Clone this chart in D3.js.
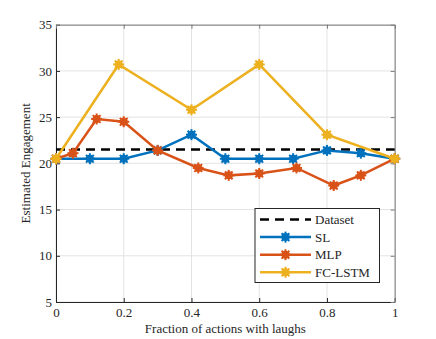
<!DOCTYPE html>
<html>
<head>
<meta charset="utf-8">
<script src="https://cdn.jsdelivr.net/npm/d3@7"></script>
<style>
  body { margin: 0; background: #fff; }
  svg text { font-family: "Liberation Serif", "Times New Roman", serif; fill: #262626; }
</style>
</head>
<body>
<svg id="chart" width="436" height="339"></svg>
<script>
// data
const xTicks = [0, 0.2, 0.4, 0.6, 0.8, 1];
const yTicks = [5, 10, 15, 20, 25, 30, 35];
const datasetLevel = 21.5;

const slX = [0, 0.1, 0.2, 0.3, 0.4, 0.5, 0.6, 0.7, 0.8, 0.9, 1.0];
const slY = [20.5, 20.5, 20.5, 21.4, 23.1, 20.5, 20.5, 20.5, 21.4, 21.1, 20.5];

const mlpX = [0, 0.05, 0.12, 0.2, 0.3, 0.42, 0.51, 0.6, 0.71, 0.82, 0.9, 1.0];
const mlpY = [20.5, 21.1, 24.8, 24.5, 21.4, 19.5, 18.7, 18.9, 19.5, 17.6, 18.7, 20.5];

const lstmX = [0, 0.185, 0.4, 0.6, 0.8, 1.0];
const lstmY = [20.5, 30.7, 25.8, 30.7, 23.1, 20.5];

const series = [
  { name: 'SL', xs: slX, ys: slY, color: '#0072BD' },
  { name: 'MLP', xs: mlpX, ys: mlpY, color: '#D95319' },
  { name: 'FC-LSTM', xs: lstmX, ys: lstmY, color: '#EDB120' }
];

const pLeft = 56, pRight = 394.7, pTop = 24.7, pBottom = 302;

const x = d3.scaleLinear().domain([0, 1]).range([pLeft, pRight]);
const y = d3.scaleLinear().domain([5, 35]).range([pBottom, pTop]);

const svg = d3.select('#chart');

// grid
const grid = svg.append('g');
grid.selectAll('line.gx').data(xTicks).join('line')
  .attr('x1', d => x(d)).attr('x2', d => x(d))
  .attr('y1', pTop).attr('y2', pBottom)
  .attr('stroke', '#e3e3e3').attr('stroke-width', 1);
grid.selectAll('line.gy').data(yTicks).join('line')
  .attr('x1', pLeft).attr('x2', pRight)
  .attr('y1', d => y(d)).attr('y2', d => y(d))
  .attr('stroke', '#e3e3e3').attr('stroke-width', 1);

// axes (ticks pointing inward, on all four sides)
const tk = 4;
svg.append('g').attr('transform', `translate(0,${pBottom})`)
  .call(d3.axisBottom(x).tickValues(xTicks).tickSizeInner(-tk).tickSizeOuter(0).tickPadding(6).tickFormat(d3.format('')))
  .call(g => g.select('.domain').attr('stroke', '#262626'))
  .call(g => g.selectAll('.tick line').attr('stroke', '#262626'))
  .call(g => g.selectAll('text').attr('font-size', 13).attr('fill', '#262626'));
svg.append('g').attr('transform', `translate(${pLeft},0)`)
  .call(d3.axisLeft(y).tickValues(yTicks).tickSizeInner(-tk).tickSizeOuter(0).tickPadding(4))
  .call(g => g.select('.domain').attr('stroke', '#262626'))
  .call(g => g.selectAll('.tick line').attr('stroke', '#262626'))
  .call(g => g.selectAll('text').attr('font-size', 13).attr('fill', '#262626'));
svg.append('g').attr('transform', `translate(0,${pTop})`)
  .call(d3.axisTop(x).tickValues(xTicks).tickSizeInner(-tk).tickSizeOuter(0).tickFormat(''))
  .call(g => g.select('.domain').attr('stroke', '#7a7a7a'))
  .call(g => g.selectAll('.tick line').attr('stroke', '#7a7a7a'));
svg.append('g').attr('transform', `translate(${pRight},0)`)
  .call(d3.axisRight(y).tickValues(yTicks).tickSizeInner(-tk).tickSizeOuter(0).tickFormat(''))
  .call(g => g.select('.domain').attr('stroke', '#7a7a7a'))
  .call(g => g.selectAll('.tick line').attr('stroke', '#7a7a7a'));

// axis titles
svg.append('text').attr('x', (pLeft + pRight) / 2).attr('y', 333)
  .attr('text-anchor', 'middle').attr('font-size', 13)
  .text('Fraction of actions with laughs');
svg.append('text').attr('transform', `translate(30,${(pTop + pBottom) / 2}) rotate(-90)`)
  .attr('text-anchor', 'middle').attr('font-size', 13)
  .text('Estimated Engagement');

// dataset reference
svg.append('line')
  .attr('x1', x(0)).attr('x2', x(1))
  .attr('y1', y(datasetLevel)).attr('y2', y(datasetLevel))
  .attr('stroke', '#000').attr('stroke-width', 2.5).attr('stroke-dasharray', '9,6');

function marker(g, cx, cy, color) {
  g.append('circle').attr('cx', cx).attr('cy', cy).attr('r', 4).attr('fill', color);
  for (let a = 0; a < 4; a++) {
    const ang = a * Math.PI / 4;
    const dx = Math.cos(ang) * 5.5, dy = Math.sin(ang) * 5.5;
    g.append('line')
      .attr('x1', cx - dx).attr('y1', cy - dy).attr('x2', cx + dx).attr('y2', cy + dy)
      .attr('stroke', color).attr('stroke-width', 2);
  }
}

const line = d3.line().x(d => x(d[0])).y(d => y(d[1]));

series.forEach(s => {
  const pts = s.xs.map((v, i) => [v, s.ys[i]]);
  const g = svg.append('g');
  g.append('path').datum(pts).attr('d', line)
    .attr('fill', 'none').attr('stroke', s.color).attr('stroke-width', 2.5);
  pts.forEach(p => marker(g, x(p[0]), y(p[1]), s.color));
});

// legend
const lg = svg.append('g');
lg.append('rect').attr('x', 255).attr('y', 208.5).attr('width', 124.5).attr('height', 74)
  .attr('fill', '#fff').attr('stroke', '#262626').attr('stroke-width', 1);
const legendItems = [
  { name: 'Dataset', color: '#000', dash: true },
  ...series.map(s => ({ name: s.name, color: s.color, dash: false }))
];
legendItems.forEach((it, i) => {
  const ly = 219.5 + i * 17.6;
  lg.append('line').attr('x1', 260).attr('x2', 311).attr('y1', ly).attr('y2', ly)
    .attr('stroke', it.color).attr('stroke-width', 2.5)
    .attr('stroke-dasharray', it.dash ? '9,6' : null);
  if (!it.dash) marker(lg, 285.5, ly, it.color);
  lg.append('text').attr('x', 315).attr('y', ly + 4.5).attr('font-size', 13).attr('fill', '#000').text(it.name);
});
</script>
</body>
</html>
